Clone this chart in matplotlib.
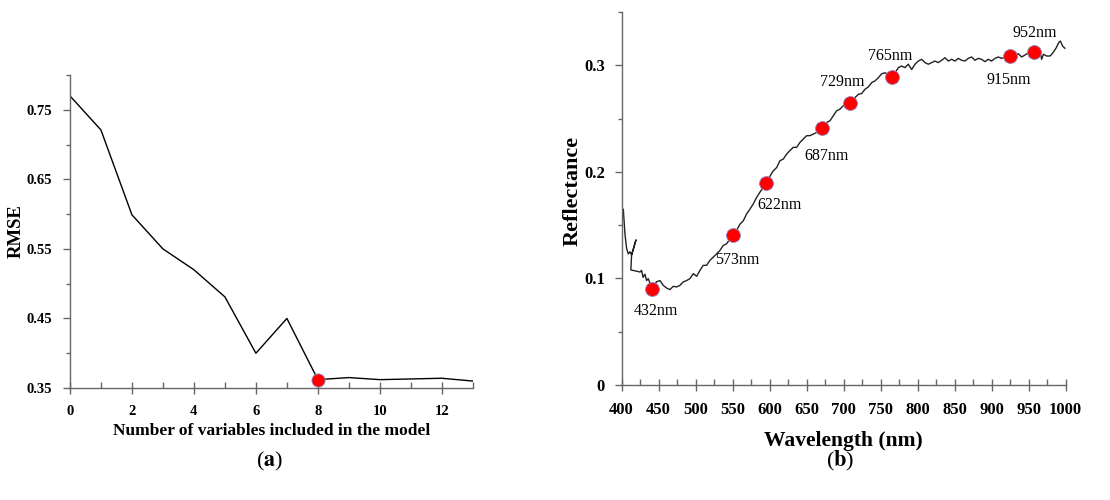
import matplotlib
matplotlib.use("Agg")
import matplotlib.pyplot as plt
from matplotlib.ticker import MultipleLocator

# (a) RMSE vs number of variables
N_VARS = list(range(14))
RMSE = [0.770, 0.721, 0.599, 0.550, 0.520, 0.481, 0.400, 0.450,
        0.362, 0.365, 0.362, 0.363, 0.364, 0.360]
BEST_N = 8
BEST_RMSE = 0.362

# (b) reflectance spectrum (in drawing order)
SPEC_WL = [400.5, 402.3, 404.5, 406.8, 409.0, 411.3, 413.5, 419.4, 413.5, 412.5,
           425.0, 427.0, 429.0, 431.5, 433.8, 436.0, 441.4, 447.0, 451.8, 456.3,
           460.8, 465.3, 469.8, 474.3, 478.8, 483.3, 487.8, 492.3, 496.9, 501.4,
           505.9, 510.4, 514.9, 519.4, 523.9, 528.4, 532.9, 537.4, 541.9, 546.4,
           550.9, 555.4, 560.0, 564.4, 569.0, 573.4, 578.0, 582.4, 587.0, 591.5,
           595.5, 600.5, 605.0, 609.5, 614.0, 618.5, 623.0, 627.5, 632.0, 636.5,
           641.0, 645.5, 650.0, 654.5, 659.0, 663.5, 670.7, 677.0, 681.6, 686.0,
           690.6, 695.0, 699.6, 708.6, 715.4, 720.0, 724.4, 729.0, 733.4, 738.0,
           742.4, 747.0, 751.4, 756.0, 760.4, 765.4, 769.4, 774.0, 778.4, 783.0,
           787.4, 792.0, 796.5, 801.0, 805.5, 810.0, 814.5, 819.0, 823.5, 828.0,
           832.5, 837.0, 841.5, 846.0, 850.5, 855.0, 859.5, 864.0, 868.5, 873.0,
           877.5, 882.0, 886.5, 891.0, 895.5, 900.0, 904.6, 909.0, 913.6, 924.4,
           931.6, 936.0, 940.6, 945.0, 949.6, 957.7, 965.4, 967.6, 970.0, 974.4,
           979.0, 983.0, 987.4, 990.6, 993.0, 996.0, 999.0]
SPEC_R = [0.157, 0.165, 0.142, 0.128, 0.123, 0.125, 0.122, 0.136, 0.122, 0.108,
          0.106, 0.1076, 0.101, 0.104, 0.098, 0.0998, 0.0901, 0.0967, 0.098, 0.0935,
          0.091, 0.0895, 0.0926, 0.092, 0.0935, 0.0967, 0.098, 0.0998, 0.1045, 0.102,
          0.1076, 0.1123, 0.1123, 0.117, 0.120, 0.123, 0.1263, 0.131, 0.1325, 0.137,
          0.1403, 0.145, 0.151, 0.154, 0.1606, 0.165, 0.170, 0.176, 0.181, 0.1855,
          0.190, 0.196, 0.201, 0.204, 0.2105, 0.212, 0.2167, 0.220, 0.223, 0.223,
          0.2276, 0.2307, 0.2339, 0.234, 0.2354, 0.237, 0.2413, 0.2463, 0.248, 0.2526,
          0.2573, 0.2588, 0.262, 0.2644, 0.2697, 0.2728, 0.2735, 0.2775, 0.2797, 0.2838,
          0.2853, 0.2884, 0.292, 0.293, 0.291, 0.2894, 0.293, 0.2978, 0.2993, 0.2978,
          0.301, 0.296, 0.301, 0.304, 0.3056, 0.3025, 0.301, 0.3025, 0.304, 0.3025,
          0.3047, 0.3071, 0.304, 0.3056, 0.304, 0.3065, 0.3047, 0.304, 0.3065, 0.3078,
          0.3047, 0.3065, 0.3056, 0.3034, 0.3056, 0.304, 0.3065, 0.3078, 0.3065, 0.309,
          0.3087, 0.3109, 0.3078, 0.3096, 0.3118, 0.3124, 0.3134, 0.3056, 0.3103, 0.3087,
          0.3087, 0.3118, 0.3165, 0.3212, 0.3227, 0.318, 0.316]

# selected bands: where the dots sit, and the label printed next to them
BAND_WL = [441.4, 550.9, 595.5, 670.7, 708.6, 765.4, 924.4, 957.7]
BAND_R = [0.0901, 0.1403, 0.190, 0.2413, 0.2644, 0.2894, 0.309, 0.3124]
BAND_LABELS = ["432nm", "573nm", "622nm", "687nm", "729nm", "765nm", "915nm", "952nm"]
LABEL_OFFSETS = [(4, -22), (4, -25), (13, -22), (5, -28), (-8, 21), (-2, 21), (-1, -24), (0, 19)]

SERIF = "Liberation Serif"
AXIS_COLOR = "#666666"


def style_axes(ax):
    for side in ("top", "right"):
        ax.spines[side].set_visible(False)
    for side in ("left", "bottom"):
        ax.spines[side].set_color(AXIS_COLOR)
        ax.spines[side].set_linewidth(1.0)
    ax.tick_params(axis="x", which="major", direction="inout", length=9, width=1, color=AXIS_COLOR)
    ax.tick_params(axis="x", which="minor", direction="in", length=4, width=1, color=AXIS_COLOR)
    ax.tick_params(axis="y", which="major", direction="out", length=5, width=1, color=AXIS_COLOR)
    ax.tick_params(axis="y", which="minor", direction="out", length=3, width=1, color=AXIS_COLOR)


def main():
    plt.rcParams["mathtext.fontset"] = "stix"
    fig = plt.figure(figsize=(11.1, 5.0), dpi=100)

    # ---- (a)
    ax1 = fig.add_axes([0.063, 0.224, 0.363, 0.626])
    ax1.plot(N_VARS, RMSE, color="black", lw=1.0)
    ax1.plot([BEST_N], [BEST_RMSE], "o", ms=9.5, color="red",
             mec="#8a8ac8", mew=0.6, zorder=5, clip_on=False)
    ax1.set_xlim(0, 13)
    ax1.set_ylim(0.35, 0.80)
    ax1.xaxis.set_major_locator(MultipleLocator(2))
    ax1.xaxis.set_minor_locator(MultipleLocator(1))
    ax1.set_yticks([0.35, 0.45, 0.55, 0.65, 0.75])
    ax1.set_yticks([0.40, 0.50, 0.60, 0.70, 0.80], minor=True)
    ax1.set_yticklabels(["0.35", "0.45", "0.55", "0.65", "0.75"])
    style_axes(ax1)
    ax1.tick_params(axis="x", pad=8)
    ax1.tick_params(axis="y", pad=8)
    for lab in ax1.get_xticklabels() + ax1.get_yticklabels():
        lab.set_fontfamily(SERIF)
        lab.set_fontweight("bold")
        lab.set_fontsize(10.5)
    ax1.set_xlabel("Number of variables included in the model", family=SERIF,
                   weight="bold", fontsize=12.5)
    ax1.xaxis.set_label_coords(0.5, -0.113)
    ax1.set_ylabel("RMSE", family=SERIF, weight="bold", fontsize=13.5)
    ax1.yaxis.set_label_coords(-0.112, 0.5)

    # ---- (b)
    ax2 = fig.add_axes([0.560, 0.230, 0.400, 0.746])
    ax2.plot(SPEC_WL, SPEC_R, color="#222222", lw=1.0)
    ax2.plot(BAND_WL, BAND_R, "o", ms=10, color="red", mec="#8a8ac8", mew=0.6, zorder=5)
    for wl, r, txt, off in zip(BAND_WL, BAND_R, BAND_LABELS, LABEL_OFFSETS):
        ax2.annotate(txt, (wl, r), xytext=off, textcoords="offset pixels",
                     ha="center", va="center", family=SERIF, fontsize=11.5)
    ax2.set_xlim(400, 1000)
    ax2.set_ylim(0, 0.35)
    ax2.xaxis.set_major_locator(MultipleLocator(50))
    ax2.xaxis.set_minor_locator(MultipleLocator(25))
    ax2.set_yticks([0, 0.1, 0.2, 0.3])
    ax2.set_yticks([0.05, 0.15, 0.25, 0.35], minor=True)
    ax2.set_yticklabels(["0", "0.1", "0.2", "0.3"])
    style_axes(ax2)
    for lab in ax2.get_xticklabels() + ax2.get_yticklabels():
        lab.set_fontfamily(SERIF)
        lab.set_fontweight("bold")
        lab.set_fontsize(12)
    ax2.tick_params(axis="x", pad=8)
    ax2.tick_params(axis="y", pad=7)
    ax2.set_xlabel("Wavelength (nm)", family=SERIF, weight="bold", fontsize=15.5)
    ax2.xaxis.set_label_coords(0.5, -0.122)
    ax2.set_ylabel("Reflectance", family=SERIF, weight="bold", fontsize=16)
    ax2.yaxis.set_label_coords(-0.087, 0.52)

    # panel captions
    fig.text(0.243, 0.078, r"($\mathbf{a}$)", ha="center", va="center", fontsize=16, family=SERIF)
    fig.text(0.757, 0.078, r"($\mathbf{b}$)", ha="center", va="center", fontsize=16, family=SERIF)

    fig.savefig("out.png", dpi=100)
    plt.close(fig)


if __name__ == "__main__":
    main()
